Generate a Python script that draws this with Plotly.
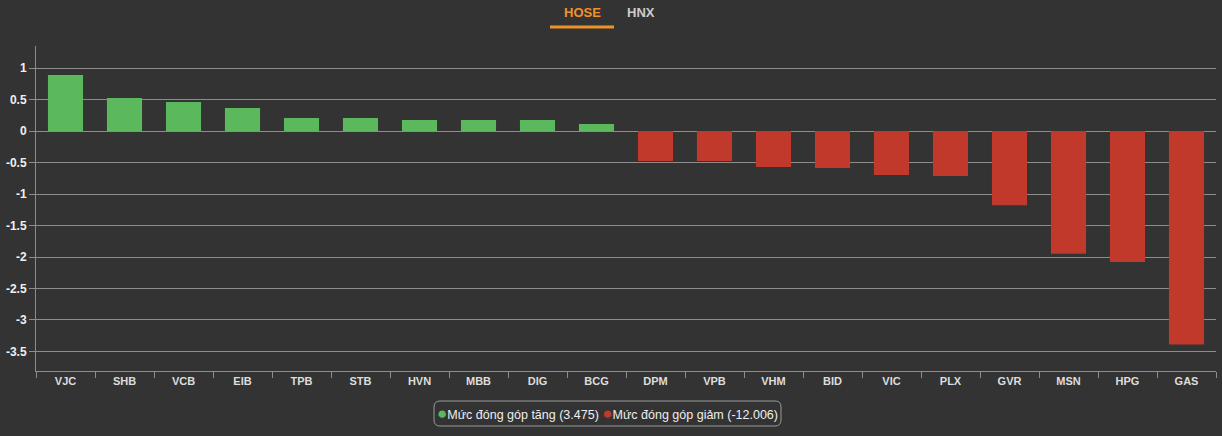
import plotly.graph_objects as go

categories = ["VJC", "SHB", "VCB", "EIB", "TPB", "STB", "HVN", "MBB", "DIG", "BCG",
              "DPM", "VPB", "VHM", "BID", "VIC", "PLX", "GVR", "MSN", "HPG", "GAS"]
values = [0.889, 0.524, 0.46, 0.365, 0.206, 0.206, 0.175, 0.175, 0.175, 0.11,
          -0.476, -0.476, -0.571, -0.587, -0.698, -0.714, -1.18, -1.95, -2.08, -3.39]
y_tickvals = [1, 0.5, 0, -0.5, -1, -1.5, -2, -2.5, -3, -3.5]
y_ticktext = ["1", "0.5", "0", "-0.5", "-1", "-1.5", "-2", "-2.5", "-3", "-3.5"]
legend_labels = ["Mức đóng góp tăng (3.475)", "Mức đóng góp giảm (-12.006)"]
tabs = ["HOSE", "HNX"]

GREEN = "#5cb85c"
RED = "#c0392b"
BG = "#333333"
GRID = "#8c8c8c"
FONT = "Arial, Liberation Sans, sans-serif"

colors = [GREEN if v >= 0 else RED for v in values]

fig = go.Figure()
fig.add_trace(go.Bar(x=categories, y=values, marker=dict(color=colors, line=dict(width=0)),
                     showlegend=False))

fig.update_layout(
    width=1222, height=436,
    margin=dict(l=36, r=6, t=46, b=65),
    paper_bgcolor=BG, plot_bgcolor=BG,
    bargap=0.405,
    font=dict(family=FONT, color="#e6e6e6"),
    showlegend=False,
    xaxis=dict(
        type="category", showgrid=False, zeroline=False,
        showline=True, linecolor=GRID, linewidth=1,
        ticks="outside", tickson="boundaries", ticklen=6, tickcolor=GRID,
        tickfont=dict(family=FONT, size=11, color="#dddddd", weight="bold"),
        fixedrange=True,
    ),
    yaxis=dict(
        range=[-3.81, 1.35], tickvals=y_tickvals, ticktext=y_ticktext,
        showgrid=True, gridcolor=GRID, gridwidth=1,
        zeroline=False, showline=True, linecolor=GRID, linewidth=1,
        ticks="outside", ticklen=6, tickcolor=GRID,
        tickfont=dict(family=FONT, size=12, color="#f0f0f0", weight="bold"),
        fixedrange=True,
    ),
)

PW, PH, L, T = 1180, 325, 36, 46

def px_x(p):
    return (p - L) / PW

def px_y(p):
    return 1 - (p - T) / PH

# Tabs
fig.add_annotation(text="<b>%s</b>" % tabs[0], xref="paper", yref="paper",
                   x=px_x(582), y=px_y(13), showarrow=False,
                   font=dict(family=FONT, size=13, color="#f0922b"),
                   xanchor="center", yanchor="middle")
fig.add_annotation(text="<b>%s</b>" % tabs[1], xref="paper", yref="paper",
                   x=px_x(641), y=px_y(13), showarrow=False,
                   font=dict(family=FONT, size=13, color="#cccccc"),
                   xanchor="center", yanchor="middle")
fig.add_shape(type="rect", xref="paper", yref="paper",
              x0=px_x(550), x1=px_x(614), y0=px_y(28.5), y1=px_y(25.5),
              fillcolor="#f0922b", line=dict(width=0))

# Legend box (rounded)
x0, x1, y0, y1, r = 434, 781, 401, 426, 6
path = (f"M {px_x(x0 + r)} {px_y(y0)} L {px_x(x1 - r)} {px_y(y0)} "
        f"Q {px_x(x1)} {px_y(y0)} {px_x(x1)} {px_y(y0 + r)} "
        f"L {px_x(x1)} {px_y(y1 - r)} Q {px_x(x1)} {px_y(y1)} {px_x(x1 - r)} {px_y(y1)} "
        f"L {px_x(x0 + r)} {px_y(y1)} Q {px_x(x0)} {px_y(y1)} {px_x(x0)} {px_y(y1 - r)} "
        f"L {px_x(x0)} {px_y(y0 + r)} Q {px_x(x0)} {px_y(y0)} {px_x(x0 + r)} {px_y(y0)} Z")
fig.add_shape(type="path", path=path, xref="paper", yref="paper",
              line=dict(color="#9a9a9a", width=1), fillcolor="rgba(0,0,0,0)")

legend_text = (f"<span style='color:{GREEN};font-size:17px'>●</span>{legend_labels[0]} "
               f"<span style='color:{RED};font-size:17px'>●</span>{legend_labels[1]}")
fig.add_annotation(text=legend_text, xref="paper", yref="paper",
                   x=px_x((x0 + x1) / 2), y=px_y((y0 + y1) / 2), showarrow=False,
                   font=dict(family=FONT, size=12.5, color="#eeeeee"),
                   xanchor="center", yanchor="middle")

fig.write_html("out.html")
